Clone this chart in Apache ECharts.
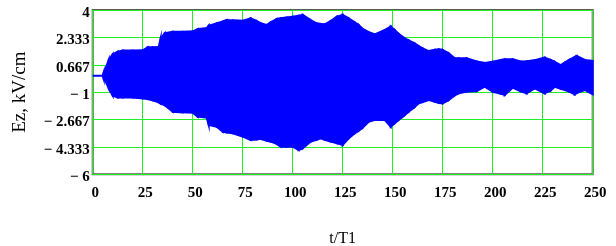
<!DOCTYPE html>
<html>
<head>
<meta charset="utf-8">
<script src="https://cdn.jsdelivr.net/npm/echarts@6/dist/echarts.min.js"></script>
<style>
  html, body { margin: 0; padding: 0; background: #fff; }
  #chart { width: 616px; height: 246px; }
</style>
</head>
<body>
<div id="chart"></div>
<script>
// t/T1 sample points where the envelope was read
var tValues = [0, 5, 5.5, 6.5, 8, 10, 12.5, 15, 20, 25, 27.5, 30, 33, 34, 36, 40, 45, 50, 52.5, 57,
    58, 62, 65, 67, 70, 75, 79, 82, 84, 87, 89, 92, 94, 97, 100, 103, 105, 109, 112, 114,
    116, 119, 122, 125, 128, 131, 133, 135, 138, 141, 146, 149, 151, 153, 156, 158, 161, 163, 165, 168,
    171, 173, 175, 178, 181, 183, 187, 192, 196, 200, 204, 206, 210, 214, 217, 221, 226, 229, 231, 234,
    236, 238, 241, 242, 246, 250];

// upper envelope of Ez, kV/cm
var upperEz = [0, 0, 0.2, 0.45, 0.96, 1.30, 1.46, 1.53, 1.53, 1.55, 1.73, 1.73, 1.75, 2.28, 2.58, 2.68, 2.68, 2.70, 2.84, 2.90,
    3.05, 3.19, 3.30, 3.39, 3.37, 3.35, 3.49, 3.33, 3.20, 3.09, 3.25, 3.45, 3.50, 3.55, 3.59, 3.65, 3.70, 3.39, 3.19, 3.15,
    3.13, 3.33, 3.59, 3.70, 3.49, 3.25, 3.09, 2.85, 2.65, 2.52, 2.78, 2.99, 2.78, 2.55, 2.28, 2.15, 1.97, 1.80, 1.67, 1.50,
    1.58, 1.61, 1.57, 1.36, 1.06, 1.06, 1.06, 0.86, 0.78, 0.85, 0.96, 1.00, 1.00, 0.86, 0.88, 0.95, 1.10, 0.96, 0.85, 0.65,
    0.80, 0.95, 1.15, 1.20, 0.96, 0.90];

// lower envelope of Ez, kV/cm
var lowerEz = [0, 0, -0.2, -0.36, -0.77, -1.21, -1.33, -1.33, -1.33, -1.38, -1.42, -1.50, -1.62, -1.70, -1.80, -2.19, -2.23, -2.25, -2.49, -2.55,
    -3.0, -3.10, -3.40, -3.45, -3.51, -3.71, -3.91, -3.88, -3.85, -3.95, -4.01, -4.15, -4.32, -4.32, -4.32, -4.52, -4.42, -4.01, -3.90, -3.81,
    -3.90, -4.01, -4.11, -4.21, -3.81, -3.51, -3.35, -3.16, -2.80, -2.69, -2.69, -3.10, -2.90, -2.69, -2.40, -2.19, -1.90, -1.68, -1.60, -1.48,
    -1.58, -1.65, -1.68, -1.48, -1.20, -1.07, -0.97, -0.93, -0.67, -0.97, -1.10, -1.17, -0.73, -0.95, -1.07, -0.77, -1.07, -0.90, -0.67, -0.80,
    -0.87, -0.95, -1.13, -1.05, -0.87, -1.13];

var blue = '#0000ff';
var green = '#22ee22';
var serif = 'Liberation Serif';

var envData = tValues.map(function (t, i) { return [t, upperEz[i], lowerEz[i]]; });

function fmtY(v) {
    var s = String(+v.toFixed(3));
    return s.charAt(0) === '-' ? '\u2212 ' + s.slice(1) : s;
}

// one filled segment between sample i and i+1
function renderBand(params, api) {
    var i = params.dataIndex;
    if (i >= tValues.length - 1) return null;
    var pts = [
        api.coord([tValues[i], upperEz[i]]),
        api.coord([tValues[i + 1], upperEz[i + 1]]),
        api.coord([tValues[i + 1], lowerEz[i + 1]]),
        api.coord([tValues[i], lowerEz[i]])
    ];
    return {
        type: 'polygon',
        shape: { points: pts },
        style: { fill: blue, stroke: blue, lineWidth: 2 }
    };
}

var chart = echarts.init(document.getElementById('chart'), null, { renderer: 'canvas' });

chart.setOption({
    animation: false,
    backgroundColor: '#fff',
    grid: {
        left: 92.7, right: 23.3, top: 10, bottom: 71.7,
        outerBoundsMode: 'none',
        show: true, borderColor: '#5a5a5a', borderWidth: 2, backgroundColor: 'transparent'
    },
    xAxis: {
        type: 'value', min: 0, max: 250, interval: 25,
        name: 't/T1', nameLocation: 'middle', nameGap: 56,
        nameTextStyle: { fontFamily: serif, fontSize: 16, color: '#000' },
        axisLine: { show: false },
        axisTick: { show: false },
        axisLabel: {
            fontFamily: serif, fontWeight: 'bold', fontSize: 15, color: '#000',
            margin: 11, padding: [0, 0, 0, 5]
        },
        splitLine: { show: true, lineStyle: { color: green, width: 1 } }
    },
    yAxis: {
        type: 'value', min: -6, max: 4, interval: 5 / 3,
        name: 'Ez, kV/cm', nameLocation: 'middle', nameGap: 63,
        nameTextStyle: { fontFamily: serif, fontSize: 19, color: '#000' },
        axisLine: { show: false },
        axisTick: { show: false },
        axisLabel: {
            fontFamily: serif, fontWeight: 'bold', fontSize: 15, color: '#000',
            margin: 3, verticalAlign: 'top', lineHeight: 6, formatter: fmtY
        },
        splitLine: { show: true, lineStyle: { color: green, width: 1 } }
    },
    series: [
        {
            name: 'Ez', type: 'custom', data: envData,
            encode: { x: 0, y: [1, 2] },
            renderItem: renderBand,
            clip: true
        }
    ]
});
</script>
</body>
</html>
